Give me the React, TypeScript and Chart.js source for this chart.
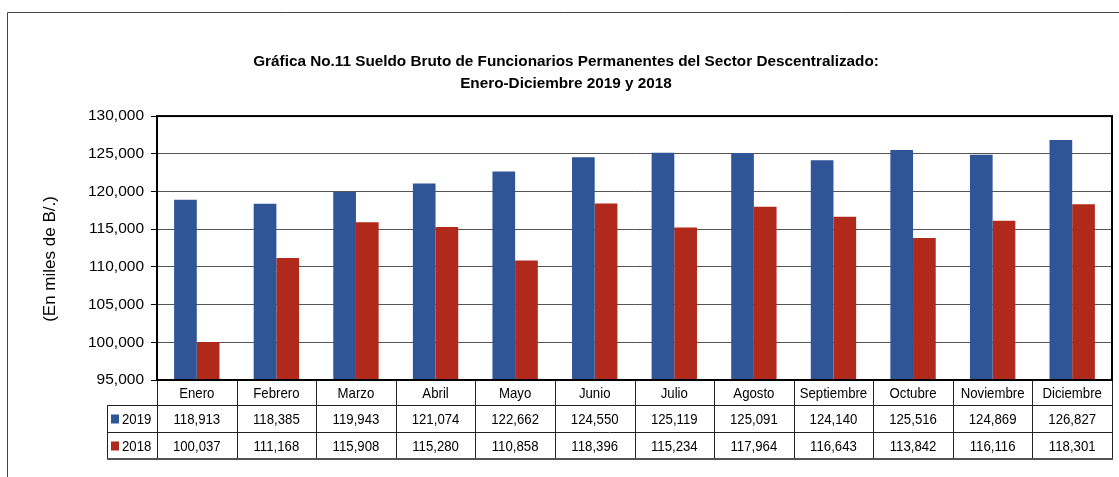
import React, { useEffect, useRef } from "react";
import { Chart, registerables } from "chart.js";

Chart.register(...registerables);

const months = [
  "Enero", "Febrero", "Marzo", "Abril", "Mayo", "Junio",
  "Julio", "Agosto", "Septiembre", "Octubre", "Noviembre", "Diciembre",
];
const values2019 = [118913, 118385, 119943, 121074, 122662, 124550, 125119, 125091, 124140, 125516, 124869, 126827];
const values2018 = [100037, 111168, 115908, 115280, 110858, 118396, 115234, 117964, 116643, 113842, 116116, 118301];
const seriesLabels = ["2019", "2018"];
const seriesColors = ["#2F5597", "#B1291A"];
const titleLines = [
  "Gráfica No.11 Sueldo Bruto de Funcionarios Permanentes del Sector Descentralizado:",
  "Enero-Diciembre 2019 y 2018",
];
const yAxisTitle = "(En miles de B/.)";
const yMin = 95000;
const yMax = 130000;
const yStep = 5000;

const FONT = "'Liberation Sans', Arial, sans-serif";
const NARROW_SCALE = 0.88;

const fmt = (v: number) => v.toLocaleString("en-US");

function narrowText(ctx: CanvasRenderingContext2D, text: string, x: number, y: number) {
  ctx.save();
  ctx.translate(x, y);
  ctx.scale(NARROW_SCALE, 1);
  ctx.fillText(text, 0, 0);
  ctx.restore();
}

const tablePlugin = {
  id: "dataTable",
  afterDraw(chart: any) {
    const ctx: CanvasRenderingContext2D = chart.ctx;
    const area = chart.chartArea;
    const n = months.length;
    const w = (area.right - area.left) / n;
    const headerTop = area.bottom;
    const row1 = headerTop + 25;
    const row2 = row1 + 27;
    const row3 = row2 + 27;
    const legendLeft = 107;

    ctx.save();
    // outer frame of the figure
    ctx.strokeStyle = "#444";
    ctx.lineWidth = 1;
    ctx.beginPath();
    ctx.moveTo(7.5, chart.height);
    ctx.lineTo(7.5, 12.5);
    ctx.lineTo(chart.width, 12.5);
    ctx.stroke();

    // y axis title
    ctx.fillStyle = "#000";
    ctx.font = `17px ${FONT}`;
    ctx.textAlign = "center";
    ctx.textBaseline = "middle";
    ctx.save();
    ctx.translate(50, 259);
    ctx.rotate(-Math.PI / 2);
    ctx.fillText(yAxisTitle, 0, 0);
    ctx.restore();

    // table lines
    ctx.strokeStyle = "#222";
    ctx.lineWidth = 1;
    ctx.beginPath();
    for (let i = 1; i <= n; i++) {
      const x = Math.round(area.left + i * w) + 0.5;
      ctx.moveTo(x, headerTop);
      ctx.lineTo(x, row3);
    }
    ctx.moveTo(area.left + 0.5, headerTop);
    ctx.lineTo(area.left + 0.5, row3);
    ctx.moveTo(legendLeft + 0.5, row1);
    ctx.lineTo(legendLeft + 0.5, row3);
    ctx.moveTo(legendLeft, row1 + 0.5);
    ctx.lineTo(area.right, row1 + 0.5);
    ctx.moveTo(legendLeft, row2 + 0.5);
    ctx.lineTo(area.right, row2 + 0.5);
    ctx.stroke();
    ctx.strokeStyle = "#555";
    ctx.lineWidth = 2;
    ctx.beginPath();
    ctx.moveTo(legendLeft, row3);
    ctx.lineTo(area.right + 1, row3);
    ctx.stroke();

    // texts
    ctx.fillStyle = "#000";
    ctx.textAlign = "center";
    ctx.textBaseline = "middle";
    ctx.font = `15px ${FONT}`;
    for (let i = 0; i < n; i++) {
      const cx = area.left + (i + 0.5) * w;
      narrowText(ctx, months[i], cx, (headerTop + row1) / 2 + 1);
      narrowText(ctx, fmt(values2019[i]), cx, (row1 + row2) / 2 + 1);
      narrowText(ctx, fmt(values2018[i]), cx, (row2 + row3) / 2 + 1);
    }
    // legend cells
    const rows = [(row1 + row2) / 2, (row2 + row3) / 2];
    ctx.textAlign = "left";
    for (let s = 0; s < 2; s++) {
      ctx.fillStyle = seriesColors[s];
      ctx.fillRect(legendLeft + 4, rows[s] - 4, 8, 9);
      ctx.fillStyle = "#000";
      narrowText(ctx, seriesLabels[s], legendLeft + 15, rows[s] + 1);
    }

    // plot frame
    ctx.strokeStyle = "#000";
    ctx.lineWidth = 2;
    ctx.strokeRect(area.left, area.top, area.right - area.left, area.bottom - area.top);
    ctx.restore();
  },
};

export default function App() {
  const ref = useRef<HTMLCanvasElement | null>(null);

  useEffect(() => {
    if (!ref.current) return;
    const chart = new Chart(ref.current, {
      type: "bar",
      data: {
        labels: months,
        datasets: [
          {
            label: seriesLabels[0],
            data: values2019,
            backgroundColor: seriesColors[0],
            categoryPercentage: 0.57,
            barPercentage: 1,
          },
          {
            label: seriesLabels[1],
            data: values2018,
            backgroundColor: seriesColors[1],
            categoryPercentage: 0.57,
            barPercentage: 1,
          },
        ],
      },
      options: {
        responsive: false,
        animation: false,
        devicePixelRatio: 1,
        layout: { padding: { left: 20, right: 7, top: 0, bottom: 97 } },
        plugins: {
          legend: { display: false },
          tooltip: { enabled: false },
          title: {
            display: true,
            text: titleLines,
            color: "#000",
            font: { family: FONT, size: 15.3, weight: "bold", lineHeight: 1.44 },
            padding: { top: 51, bottom: 21 },
          },
        },
        scales: {
          x: { display: false },
          y: {
            min: yMin,
            max: yMax,
            afterFit: (scale: any) => {
              scale.width = 137;
            },
            ticks: {
              stepSize: yStep,
              color: "#000",
              padding: 7,
              font: { family: FONT, size: 15.5 },
              callback: (v: any) => fmt(Number(v)),
            },
            grid: {
              color: "#555",
              borderDash: [2, 1],
              tickColor: "#000",
              tickBorderDash: [],
              tickLength: 6,
              lineWidth: 1,
            },
            border: { display: false },
          },
        },
      },
      plugins: [tablePlugin],
    });
    return () => chart.destroy();
  }, []);

  return (
    <div style={{ position: "absolute", left: 0, top: 0, width: 1119, height: 477, background: "#fff" }}>
      <canvas ref={ref} width={1119} height={477} style={{ display: "block" }} />
    </div>
  );
}
